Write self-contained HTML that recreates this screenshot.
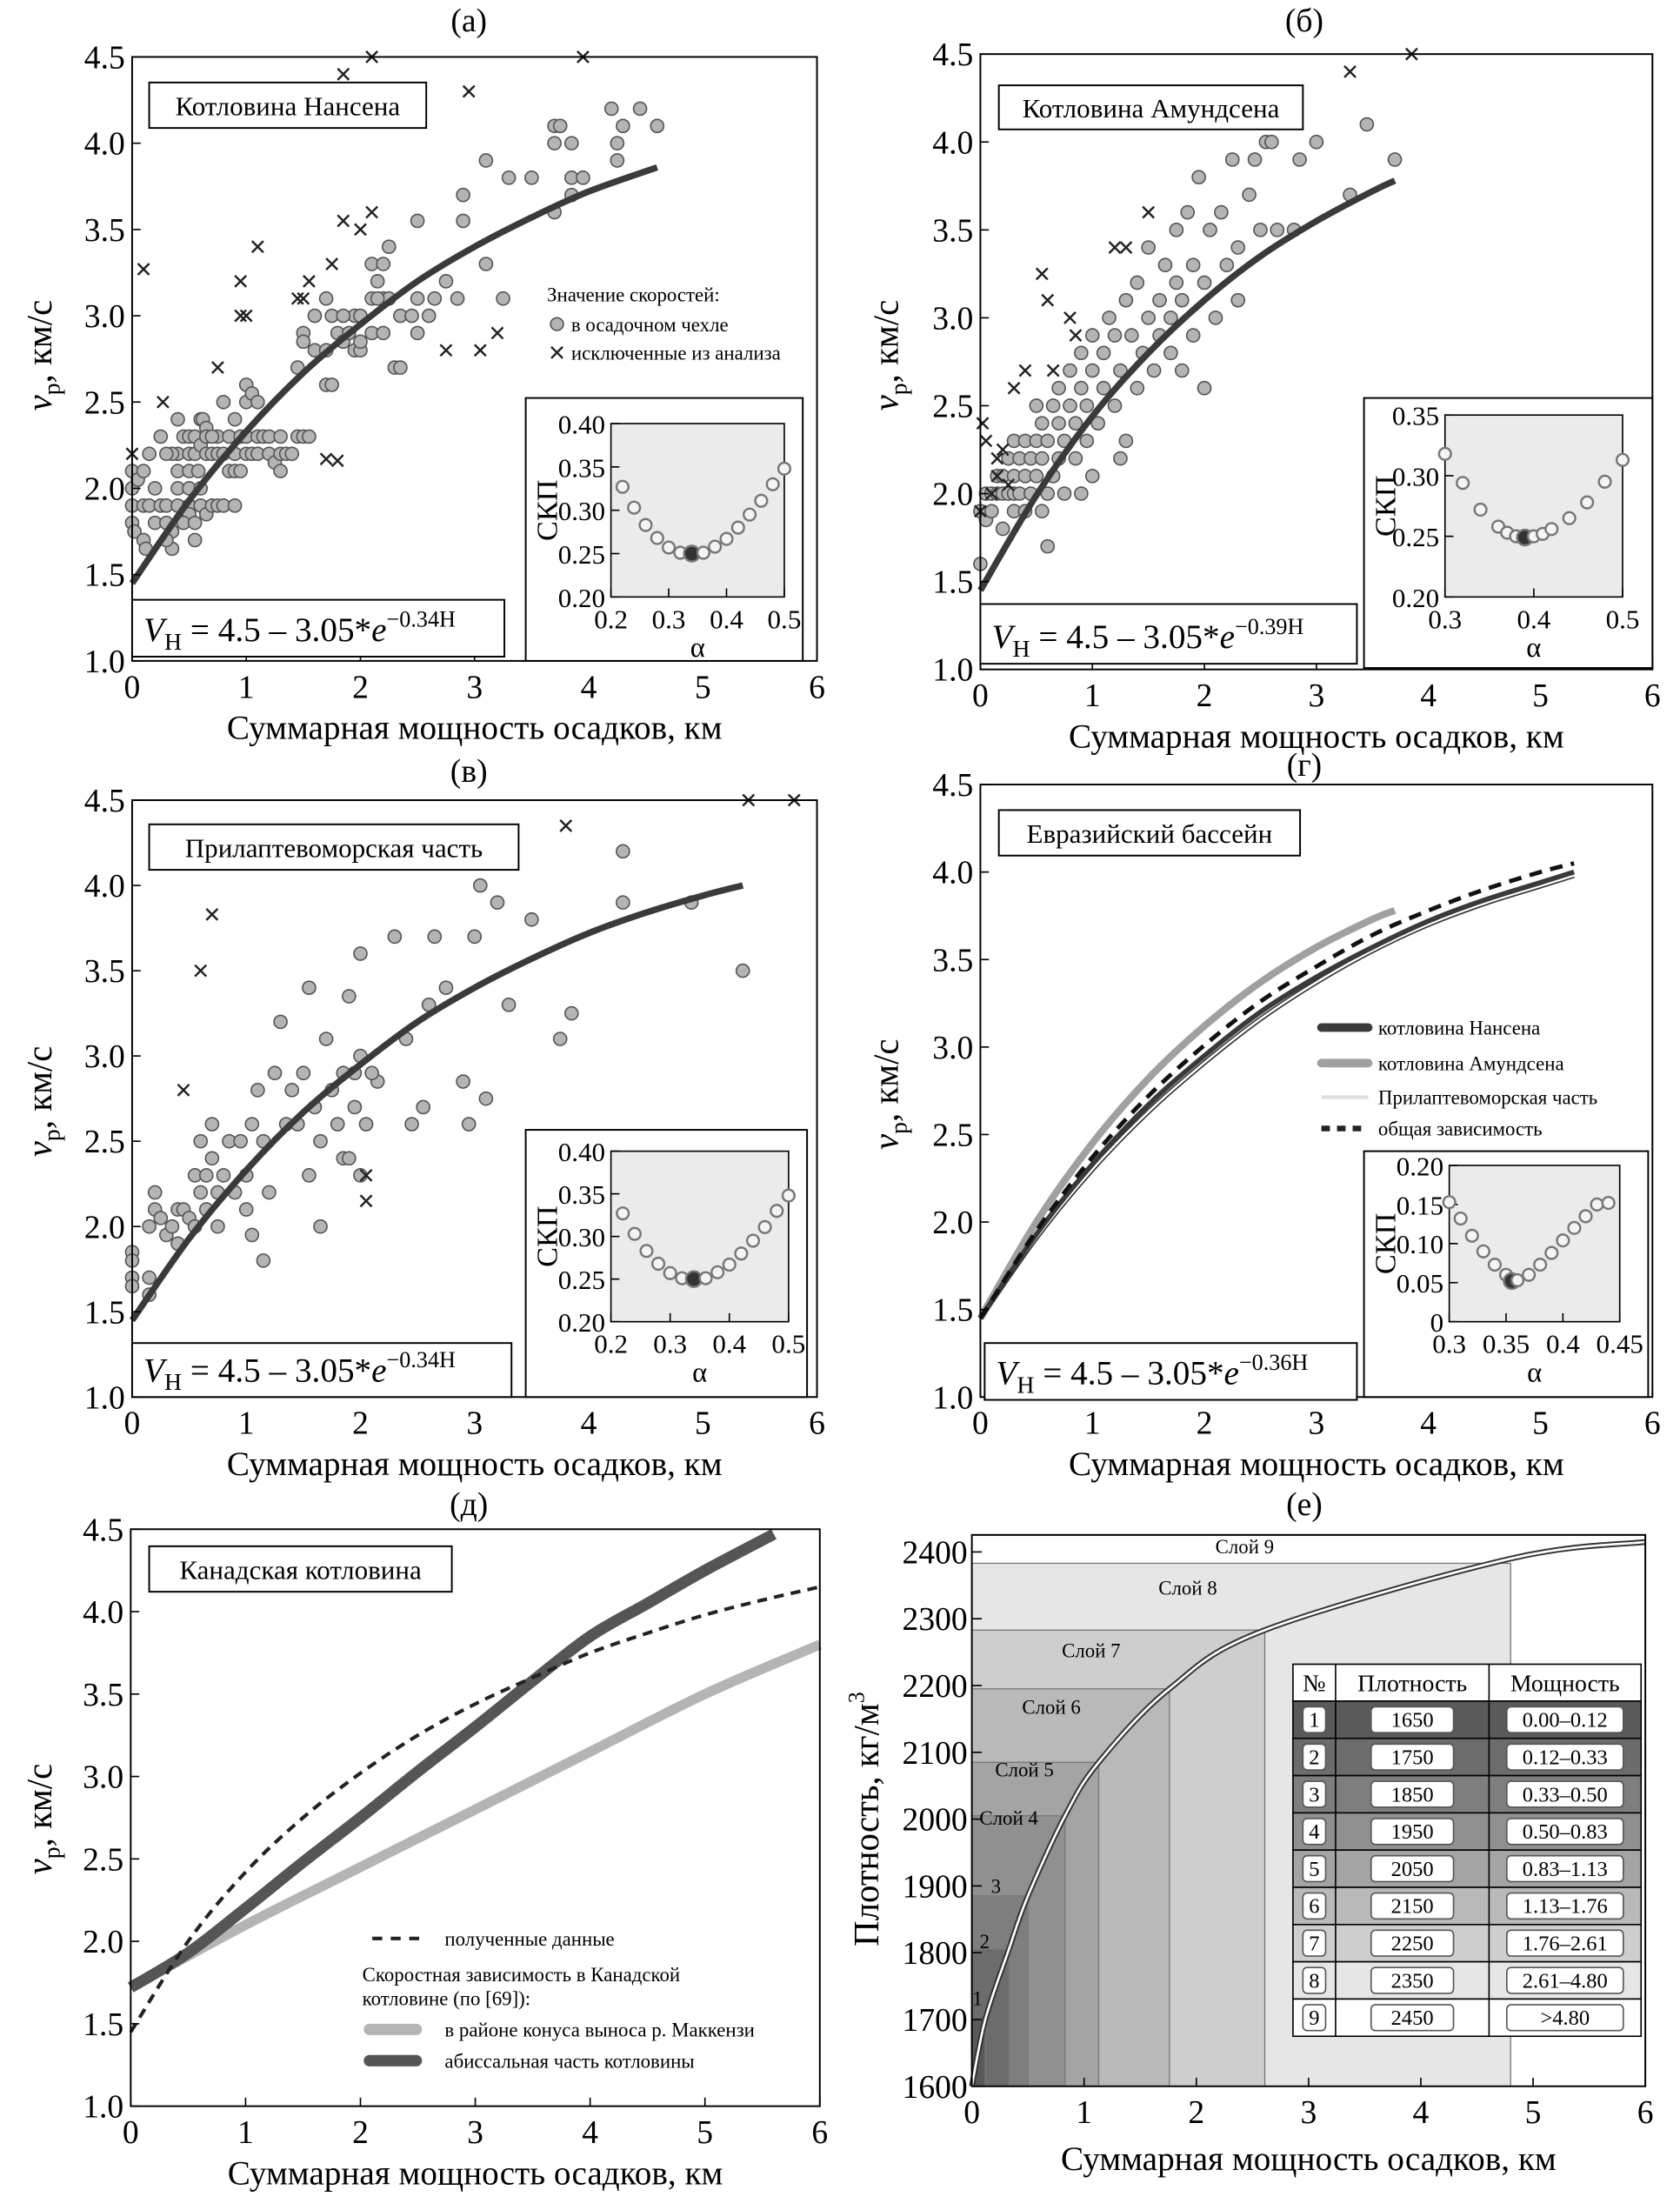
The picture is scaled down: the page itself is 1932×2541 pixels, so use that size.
<!DOCTYPE html>
<html><head><meta charset="utf-8"><style>
html,body{margin:0;padding:0;background:#fff}
svg{display:block;font-family:"Liberation Serif",serif}
</style></head><body>
<svg id="fig" xmlns="http://www.w3.org/2000/svg" width="1932" height="2541" viewBox="0 0 1182.4 1555"></svg>
<script>
// ---------- DATA ----------
const xTicks=[0,1,2,3,4,5,6];
const vTicks=[1.0,1.5,2.0,2.5,3.0,3.5,4.0,4.5];
const fitH_a=[0,0.5,1,1.5,2,2.5,3,3.5,4,4.6];
const fitV_a=[1.45,1.93,2.33,2.67,2.95,3.2,3.4,3.57,3.72,3.86];
const fitH_b=[0,0.5,1,1.5,2,2.5,3,3.5,3.7];
const fitV_b=[1.45,1.99,2.44,2.8,3.1,3.35,3.55,3.72,3.78];
const fitH_c=[0,0.5,1,1.5,2,2.5,3,3.5,4,4.5,5,5.35];
const fitV_c=[1.45,1.93,2.33,2.67,2.95,3.2,3.4,3.57,3.72,3.84,3.94,4.0];
const ptsA=[[0,2.1],[0,2.0],[0,1.9],[0,1.8],[0.02,1.75],[0.05,2.05],[0.1,2.1],[0.15,2.2],[0.1,1.9],[0.15,1.9],[0.2,2.0],[0.2,1.8],[0.1,1.7],[0.12,1.65],[0.25,1.9],[0.3,1.9],[0.3,1.8],[0.35,1.75],[0.35,1.65],[0.4,1.9],[0.4,2.0],[0.4,2.1],[0.4,2.2],[0.35,2.2],[0.45,2.3],[0.4,2.4],[0.5,2.3],[0.5,2.2],[0.5,2.1],[0.5,2.0],[0.5,1.9],[0.5,1.85],[0.45,1.8],[0.55,1.8],[0.55,2.3],[0.55,2.2],[0.58,2.1],[0.6,2.4],[0.6,2.25],[0.6,2.0],[0.6,1.9],[0.62,2.4],[0.65,2.35],[0.65,2.3],[0.65,2.2],[0.65,1.85],[0.7,1.9],[0.7,2.2],[0.75,2.3],[0.75,2.2],[0.75,1.9],[0.8,2.5],[0.8,2.2],[0.8,1.9],[0.85,2.1],[0.85,2.3],[0.9,2.2],[0.9,2.4],[0.9,2.1],[0.9,1.9],[0.95,2.3],[0.95,2.1],[1.0,2.6],[1.0,2.5],[1.0,2.3],[1.0,2.2],[1.05,2.55],[1.05,2.2],[1.1,2.3],[1.1,2.5],[1.1,2.2],[1.15,2.3],[1.2,2.3],[1.2,2.2],[1.25,2.15],[1.3,2.3],[1.3,2.2],[1.3,2.1],[1.35,2.2],[1.4,2.2],[1.45,2.3],[1.5,2.3],[1.55,2.3],[0.3,2.2],[0.25,2.3],[0.7,2.3],[0.3,1.7],[0.55,1.7],[1.45,2.7],[1.5,2.9],[1.5,2.85],[1.6,3.0],[1.6,2.8],[1.7,3.1],[1.75,3.0],[1.7,2.8],[1.7,2.6],[1.75,2.6],[1.8,2.9],[1.85,2.85],[1.9,2.9],[1.95,3.0],[1.95,2.8],[2.0,2.8],[2.0,3.0],[2.1,2.9],[2.1,3.1],[2.1,3.3],[2.15,3.2],[2.2,3.3],[2.2,3.1],[2.2,2.9],[2.25,3.4],[2.25,3.1],[2.3,2.7],[2.35,3.0],[2.35,2.7],[2.45,3.0],[2.5,3.55],[2.5,3.1],[2.5,2.9],[2.6,3.0],[2.65,3.1],[2.75,3.2],[2.85,3.1],[2.9,3.55],[2.9,3.7],[3.1,3.9],[3.1,3.3],[3.25,3.1],[3.3,3.8],[3.5,3.8],[3.7,4.1],[3.75,4.1],[3.7,4.0],[3.7,3.6],[3.85,4.0],[3.85,3.8],[3.95,3.8],[3.85,3.7],[4.2,4.2],[4.25,4.0],[4.25,3.9],[4.3,4.1],[4.45,4.2],[4.6,4.1],[2.0,2.85],[1.85,3.0],[2.15,3.1]];
const crossA=[[0,2.2],[0.1,3.27],[0.27,2.5],[0.75,2.7],[0.95,3.2],[0.95,3.0],[1.0,3.0],[1.1,3.4],[1.45,3.1],[1.5,3.1],[1.55,3.2],[1.7,2.17],[1.8,2.16],[1.75,3.3],[1.85,3.55],[1.85,4.4],[2.0,3.5],[2.1,3.6],[2.1,4.5],[2.75,2.8],[2.95,4.3],[3.05,2.8],[3.2,2.9],[3.95,4.5]];
const ptsB=[[0,1.9],[0,1.6],[0.05,1.85],[0.05,2.0],[0.1,1.9],[0.1,2.0],[0.15,2.0],[0.15,2.1],[0.2,1.8],[0.2,2.0],[0.2,2.1],[0.25,2.0],[0.25,2.2],[0.3,1.9],[0.3,2.0],[0.3,2.1],[0.3,2.3],[0.35,2.0],[0.35,2.2],[0.4,1.9],[0.4,2.1],[0.4,2.3],[0.45,2.0],[0.45,2.2],[0.5,2.1],[0.5,2.3],[0.5,2.5],[0.55,1.9],[0.55,2.2],[0.55,2.4],[0.6,2.0],[0.6,2.3],[0.6,1.7],[0.65,2.1],[0.65,2.5],[0.7,2.2],[0.7,2.4],[0.7,2.6],[0.75,2.0],[0.75,2.3],[0.8,2.5],[0.8,2.7],[0.85,2.2],[0.85,2.4],[0.9,2.6],[0.9,2.8],[0.95,2.3],[0.95,2.5],[1.0,2.7],[1.0,2.9],[1.0,2.1],[1.05,2.4],[1.1,2.6],[1.1,2.8],[1.15,3.0],[1.2,2.5],[1.2,2.9],[1.25,2.7],[1.3,3.1],[1.3,2.3],[1.35,2.9],[1.4,2.6],[1.4,3.2],[1.45,2.8],[1.5,3.0],[1.5,3.4],[1.55,2.7],[1.6,3.1],[1.6,2.9],[1.65,3.3],[1.7,2.8],[1.7,3.0],[1.75,3.2],[1.75,3.5],[1.8,2.7],[1.8,3.1],[1.85,3.6],[1.9,2.9],[1.9,3.3],[1.95,3.8],[2.0,3.2],[2.0,2.6],[2.05,3.5],[2.1,3.0],[2.15,3.6],[2.2,3.3],[2.25,3.9],[2.3,3.1],[2.3,3.4],[2.4,3.7],[2.45,3.9],[2.5,3.5],[2.55,4.0],[2.6,4.0],[2.65,3.5],[2.8,3.5],[2.85,3.9],[3.0,4.0],[3.3,3.7],[3.45,4.1],[3.7,3.9],[1.25,2.2],[0.9,2.0]];
const crossB=[[0,1.9],[0.02,2.4],[0.05,2.3],[0.1,2.0],[0.15,2.2],[0.2,2.25],[0.25,2.05],[0.3,2.6],[0.4,2.7],[0.55,3.25],[0.6,3.1],[0.65,2.7],[0.8,3.0],[0.85,2.9],[1.2,3.4],[1.3,3.4],[1.5,3.6],[3.3,4.4],[3.85,4.5],[0.15,2.1]];
const ptsC=[[0,1.85],[0,1.8],[0,1.7],[0,1.65],[0.15,1.6],[0.15,1.7],[0.15,2.0],[0.2,2.1],[0.2,2.2],[0.25,2.05],[0.3,1.95],[0.35,2.0],[0.4,1.9],[0.4,2.1],[0.45,2.1],[0.5,2.05],[0.55,2.0],[0.55,2.3],[0.6,2.2],[0.6,2.5],[0.65,2.1],[0.65,2.3],[0.7,2.6],[0.7,2.4],[0.75,2.2],[0.75,2.0],[0.8,2.3],[0.85,2.5],[0.9,2.2],[0.95,2.5],[1.0,2.3],[1.0,2.1],[1.05,2.6],[1.05,1.95],[1.1,2.8],[1.15,2.5],[1.2,2.2],[1.25,2.9],[1.3,3.2],[1.35,2.6],[1.4,2.8],[1.45,2.6],[1.5,2.9],[1.55,3.4],[1.55,2.3],[1.6,2.7],[1.65,2.5],[1.7,3.1],[1.75,2.8],[1.8,2.6],[1.85,2.9],[1.85,2.4],[1.9,2.4],[1.95,2.7],[1.9,3.35],[2.0,3.0],[2.0,2.3],[2.05,2.6],[2.0,3.6],[2.3,3.7],[2.4,3.1],[2.45,2.6],[2.55,2.7],[2.6,3.3],[2.65,3.7],[2.75,3.4],[2.9,2.85],[2.95,2.6],[3.0,3.7],[3.05,4.0],[3.1,2.75],[3.2,3.9],[3.3,3.3],[3.5,3.8],[3.75,3.1],[3.85,3.25],[4.3,3.9],[4.3,4.2],[4.9,3.9],[5.35,3.5],[1.15,1.8],[1.65,2.0],[2.15,2.85],[2.1,2.9],[1.95,2.9]];
const crossC=[[0.45,2.8],[0.6,3.5],[0.7,3.83],[2.05,2.3],[2.05,2.15],[3.8,4.35],[5.4,4.5],[5.8,4.5]];
// insets
const alphaA=[0.22,0.24,0.26,0.28,0.30,0.32,0.34,0.36,0.38,0.40,0.42,0.44,0.46,0.48,0.50];
const skpA=[0.327,0.303,0.283,0.268,0.257,0.251,0.250,0.251,0.258,0.267,0.280,0.295,0.311,0.330,0.348];
const alphaB=[0.30,0.32,0.34,0.36,0.37,0.38,0.39,0.40,0.41,0.42,0.44,0.46,0.48,0.50];
const skpB=[0.318,0.294,0.272,0.258,0.253,0.250,0.249,0.250,0.252,0.256,0.265,0.278,0.295,0.313];
const alphaD=[0.30,0.31,0.32,0.33,0.34,0.35,0.355,0.36,0.37,0.38,0.39,0.40,0.41,0.42,0.43,0.44];
const skpD=[0.153,0.132,0.11,0.09,0.073,0.06,0.052,0.053,0.06,0.073,0.088,0.104,0.12,0.135,0.15,0.152];
// panel г curves
const gH=[0,0.5,1,1.5,2,2.5,3,3.5,4,4.5,5,5.3];
const gNansen=[1.45,1.93,2.33,2.67,2.95,3.2,3.4,3.57,3.72,3.84,3.94,4.0];
const gLaptev=[1.45,1.91,2.3,2.63,2.91,3.16,3.37,3.55,3.7,3.82,3.92,3.98];
const gTotal=[1.45,1.95,2.37,2.72,3.01,3.26,3.46,3.64,3.78,3.9,4.0,4.05];
const gAmH=[0,0.5,1,1.5,2,2.5,3,3.5,3.7];
const gAmund=[1.45,2.0,2.45,2.82,3.12,3.37,3.57,3.73,3.78];
// panel д
const dH=[0,0.5,1,1.5,2,2.5,3,3.5,4,4.5,5,5.5,6];
const dObtained=[1.45,2.0,2.42,2.75,3.02,3.25,3.44,3.6,3.75,3.87,3.98,4.07,4.15];
const dMackH=[0,1,2,3,4,5,6];
const dMack=[1.72,2.1,2.45,2.8,3.15,3.5,3.8];
const dAbysH=[0,0.5,1,1.5,2,2.5,3,3.5,4,4.5,5,5.6];
const dAbys=[1.72,1.93,2.2,2.48,2.75,3.03,3.3,3.58,3.85,4.05,4.25,4.47];
// panel е
const rhoTicks=[1600,1700,1800,1900,2000,2100,2200,2300,2400];
const layerBound=[0.12,0.33,0.50,0.83,1.13,1.76,2.61,4.80,6.0];
const layerTop=[1700,1805,1885,2005,2085,2195,2283,2383,2425];
const layerDensity=["1650","1750","1850","1950","2050","2150","2250","2350","2450"];
const layerThick=["0.00–0.12","0.12–0.33","0.33–0.50","0.50–0.83","0.83–1.13","1.13–1.76","1.76–2.61","2.61–4.80",">4.80"];
const curveH=[0,0.12,0.33,0.5,0.83,1.13,1.76,2.61,4.8,6.0];
const curveRho=[1600,1700,1805,1885,2005,2085,2195,2283,2390,2415];

// ---------- DRAW ----------
const NS="http://www.w3.org/2000/svg", svg=document.getElementById('fig');
function el(tag,attrs,parent,text){const e=document.createElementNS(NS,tag);for(const k in attrs)e.setAttribute(k,attrs[k]);if(text!==undefined)e.textContent=text;(parent||svg).appendChild(e);return e;}
function lin(d0,d1,p0,p1){return v=>p0+(v-d0)*(p1-p0)/(d1-d0);}
function smoothPath(xs,ys,X,Y){const P=xs.map((h,i)=>[X(h),Y(ys[i])]);let d='M'+P[0][0]+','+P[0][1];for(let i=0;i<P.length-1;i++){const p0=P[i-1]||P[i],p1=P[i],p2=P[i+1],p3=P[i+2]||p2;const c1=[p1[0]+(p2[0]-p0[0])/6,p1[1]+(p2[1]-p0[1])/6],c2=[p2[0]-(p3[0]-p1[0])/6,p2[1]-(p3[1]-p1[1])/6];d+='C'+c1+' '+c2+' '+p2;}return d;}

function axesFrame(g,X,Y,xt,yt,x0,x1,y0,y1,fmtY,xTitle,yTitleFn){
  el('rect',{x:x0,y:y0,width:x1-x0,height:y1-y0,fill:'none',stroke:'#000','stroke-width':1.2},g);
  xt.forEach(t=>{const x=X(t);el('line',{x1:x,x2:x,y1:y1,y2:y1-6,stroke:'#000','stroke-width':1},g);
    const tl=el('text',{x:x,y:y1+26,'font-size':23,'text-anchor':'middle'},g,String(t));
    
    });
  yt.forEach(t=>{const y=Y(t);el('line',{x1:x0,x2:x0+6,y1:y,y2:y,stroke:'#000','stroke-width':1},g);
    const tl=el('text',{x:x0-5,y:y+8,'font-size':23,'text-anchor':'end'},g,fmtY(t));
    
    });
  const xl=el('text',{x:(x0+x1)/2,y:y1+55,'font-size':24,'text-anchor':'middle'},g,xTitle);
  
  
  yTitleFn(g);
}
function vTitle(g,x,y){const t=el('text',{transform:`translate(${x},${y}) rotate(-90)`,'font-size':25,'text-anchor':'middle'},g);
  
  
  el('tspan',{'font-style':'italic'},t,'v');el('tspan',{'font-size':17,dy:6},t,'p');el('tspan',{dy:-6},t,', км/с');}
function labelBox(g,x,y,w,h,txt){const r=el('rect',{x,y,width:w,height:h,fill:'#fff',stroke:'#000','stroke-width':1.2},g);
  
  
  el('text',{x:x+w/2,y:y+h/2+7,'font-size':19,'text-anchor':'middle'},g,txt);}
function formulaBox(g,x,y,w,h,a){const r=el('rect',{x,y,width:w,height:h,fill:'#fff',stroke:'#000','stroke-width':1.2},g);
  
  
  const t=el('text',{x:x+8,y:y+h-11,'font-size':24},g);
  el('tspan',{'font-style':'italic'},t,'V');el('tspan',{'font-size':17,dy:6},t,'H');el('tspan',{dy:-6},t,' = 4.5 – 3.05*');
  el('tspan',{'font-style':'italic'},t,'e');el('tspan',{'font-size':16,dy:-10},t,'−'+a+'H');}
function inset(g,bx,by,bw,bh,ix0,ix1,iy0,iy1,ad0,ad1,sd0,sd1,xt,xtl,yt,ytl,al,sk,minIdx){
  const b=el('rect',{x:bx,y:by,width:bw,height:bh,fill:'#fff',stroke:'#000','stroke-width':1.2},g);
  
  
  el('rect',{x:ix0,y:iy0,width:ix1-ix0,height:iy1-iy0,fill:'#ebebeb',stroke:'#000','stroke-width':1},g);
  const X=lin(ad0,ad1,ix0,ix1),Y=lin(sd0,sd1,iy1,iy0);
  xt.forEach((t,i)=>{el('line',{x1:X(t),x2:X(t),y1:iy1,y2:iy1-6,stroke:'#000'},g);el('text',{x:X(t),y:iy1+22,'font-size':19,'text-anchor':'middle'},g,xtl[i]);});
  yt.forEach((t,i)=>{el('line',{x1:ix0,x2:ix0+6,y1:Y(t),y2:Y(t),stroke:'#000'},g);el('text',{x:ix0-4,y:Y(t)+7,'font-size':19,'text-anchor':'end'},g,ytl[i]);});
  el('text',{x:(ix0+ix1)/2,y:iy1+42,'font-size':20,'text-anchor':'middle'},g,'α');
  el('text',{transform:`translate(${bx+22},${(iy0+iy1)/2}) rotate(-90)`,'font-size':21,'text-anchor':'middle'},g,'СКП');
  al.forEach((a,i)=>{const c=el('circle',{cx:X(a),cy:Y(sk[i]),r:i===minIdx?5.5:4.2,fill:i===minIdx?'#333':'#f4f4f4',stroke:'#777','stroke-width':1.5},g);
    
    });
}
function scatter(g,pts,crosses,X,Y){
  pts.forEach(p=>{const c=el('circle',{cx:X(p[0]),cy:Y(p[1]),r:4.6,fill:'#b4b4b4',stroke:'#555','stroke-width':1},g);
    
    });
  crosses.forEach(p=>{const x=X(p[0]),y=Y(p[1]);const c=el('path',{d:`M${x-4},${y-4}L${x+4},${y+4}M${x-4},${y+4}L${x+4},${y-4}`,stroke:'#222','stroke-width':1.5},g);
    
    });
}
function title(x,y,t){const e=el('text',{x,y,'font-size':23,'text-anchor':'middle'},svg,t);
  
  }
const XT='Суммарная мощность осадков, км', f1=v=>v.toFixed(1);

// ---- Panel а ----
(function(){const g=el('g',{});
 const X=lin(0,6,93,575),Y=lin(1,4.5,465,40);
 title(330,22,'(а)');
 scatter(g,ptsA,crossA,X,Y);
 const c=el('path',{d:smoothPath(fitH_a,fitV_a,X,Y),fill:'none',stroke:'#3a3a3a','stroke-width':4.5},g);
 
 axesFrame(g,X,Y,xTicks,vTicks,93,575,40,465,f1,XT,gg=>vTitle(gg,36,250));
 labelBox(g,105,58,195,32,'Котловина Нансена');
 const lg=el('g',{},g);
 el('text',{x:385,y:212,'font-size':14},lg,'Значение скоростей:');
 el('circle',{cx:392,cy:228,r:4.5,fill:'#b4b4b4',stroke:'#555'},lg);el('text',{x:402,y:233,'font-size':14},lg,'в осадочном чехле');
 el('path',{d:'M388,244L396,252M388,252L396,244',stroke:'#222','stroke-width':1.5},lg);el('text',{x:402,y:253,'font-size':14},lg,'исключенные из анализа');
 formulaBox(g,93,422,262,40,'0.34');
 inset(g,370,280,195,185,430,552,298,420,0.2,0.5,0.2,0.4,[0.2,0.3,0.4,0.5],['0.2','0.3','0.4','0.5'],[0.2,0.25,0.3,0.35,0.4],['0.20','0.25','0.30','0.35','0.40'],alphaA,skpA,6);
})();
// ---- Panel б ----
(function(){const g=el('g',{});
 const X=lin(0,6,690,1163),Y=lin(1,4.5,471,38);
 title(918,22,'(б)');
 scatter(g,ptsB,crossB,X,Y);
 const c=el('path',{d:smoothPath(fitH_b,fitV_b,X,Y),fill:'none',stroke:'#3a3a3a','stroke-width':4.5},g);
 
 axesFrame(g,X,Y,xTicks,vTicks,690,1163,38,471,f1,XT,gg=>vTitle(gg,632,250));
 labelBox(g,703,60,214,31,'Котловина Амундсена');
 formulaBox(g,690,425,265,42,'0.39');
 inset(g,960,280,203,190,1017,1142,292,420,0.3,0.5,0.2,0.35,[0.3,0.4,0.5],['0.3','0.4','0.5'],[0.2,0.25,0.3,0.35],['0.20','0.25','0.30','0.35'],alphaB,skpB,6);
})();
// ---- Panel в ----
(function(){const g=el('g',{});
 const X=lin(0,6,93,575),Y=lin(1,4.5,983,563);
 title(330,550,'(в)');
 scatter(g,ptsC,crossC,X,Y);
 const c=el('path',{d:smoothPath(fitH_c,fitV_c,X,Y),fill:'none',stroke:'#3a3a3a','stroke-width':4.5},g);
 
 axesFrame(g,X,Y,xTicks,vTicks,93,575,563,983,f1,XT,gg=>vTitle(gg,36,775));
 labelBox(g,105,580,260,32,'Прилаптевоморская часть');
 formulaBox(g,93,945,267,38,'0.34');
 inset(g,370,795,198,188,430,555,810,930,0.2,0.5,0.2,0.4,[0.2,0.3,0.4,0.5],['0.2','0.3','0.4','0.5'],[0.2,0.25,0.3,0.35,0.4],['0.20','0.25','0.30','0.35','0.40'],alphaA,skpA,6);
})();
// ---- Panel г ----
(function(){const g=el('g',{});
 const X=lin(0,6,690,1163),Y=lin(1,4.5,983,552);
 title(918,546,'(г)');
 let c=el('path',{d:smoothPath(gAmH,gAmund,X,Y),fill:'none',stroke:'#a0a0a0','stroke-width':5},g);
 
 c=el('path',{d:smoothPath(gH,gLaptev,X,Y),fill:'none',stroke:'#333','stroke-width':3.5},g);
 
 el('path',{d:smoothPath(gH,gLaptev,X,Y),fill:'none',stroke:'#fff','stroke-width':1.5},g);
 c=el('path',{d:smoothPath(gH,gNansen,X,Y),fill:'none',stroke:'#3a3a3a','stroke-width':3.5},g);
 
 c=el('path',{d:smoothPath(gH,gTotal,X,Y),fill:'none',stroke:'#111','stroke-width':3,'stroke-dasharray':'9,6'},g);
 
 axesFrame(g,X,Y,xTicks,vTicks,690,1163,552,983,f1,XT,gg=>vTitle(gg,632,770));
 labelBox(g,703,570,212,32,'Евразийский бассейн');
 const lg=el('g',{},g);
 el('line',{x1:930,x2:963,y1:723,y2:723,stroke:'#3a3a3a','stroke-width':6,'stroke-linecap':'round'},lg);el('text',{x:970,y:728,'font-size':14},lg,'котловина Нансена');
 el('line',{x1:930,x2:963,y1:748,y2:748,stroke:'#a0a0a0','stroke-width':6,'stroke-linecap':'round'},lg);el('text',{x:970,y:753,'font-size':14},lg,'котловина Амундсена');
 el('line',{x1:930,x2:963,y1:772,y2:772,stroke:'#ddd','stroke-width':2.5},lg);el('text',{x:970,y:777,'font-size':14},lg,'Прилаптевоморская часть');
 el('line',{x1:930,x2:963,y1:794,y2:794,stroke:'#222','stroke-width':4,'stroke-dasharray':'6,5'},lg);el('text',{x:970,y:799,'font-size':14},lg,'общая зависимость');
 formulaBox(g,693,945,262,40,'0.36');
 inset(g,960,810,200,173,1020,1140,820,930,0.3,0.45,0,0.2,[0.3,0.35,0.4,0.45],['0.3','0.35','0.4','0.45'],[0,0.05,0.1,0.15,0.2],['0','0.05','0.10','0.15','0.20'],alphaD,skpD,6);
})();
// ---- Panel д ----
(function(){const g=el('g',{});
 const X=lin(0,6,92,577),Y=lin(1,4.5,1482,1076);
 title(330,1066,'(д)');
 let c=el('path',{d:smoothPath(dMackH,dMack,X,Y),fill:'none',stroke:'#b4b4b4','stroke-width':7},g);
 
 c=el('path',{d:smoothPath(dAbysH,dAbys,X,Y),fill:'none',stroke:'#555','stroke-width':8},g);
 
 c=el('path',{d:smoothPath(dH,dObtained,X,Y),fill:'none',stroke:'#222','stroke-width':2.5,'stroke-dasharray':'7,5'},g);
 
 axesFrame(g,X,Y,xTicks,vTicks,92,577,1076,1482,f1,XT,gg=>vTitle(gg,36,1280));
 labelBox(g,105,1088,213,32,'Канадская котловина');
 const lg=el('g',{},g);
 el('line',{x1:262,x2:295,y1:1364,y2:1364,stroke:'#222','stroke-width':2.5,'stroke-dasharray':'7,6'},lg);el('text',{x:313,y:1369,'font-size':14},lg,'полученные данные');
 el('text',{x:255,y:1394,'font-size':14},lg,'Скоростная зависимость в Канадской');
 el('text',{x:255,y:1411,'font-size':14},lg,'котловине (по [69]):');
 el('line',{x1:260,x2:293,y1:1428,y2:1428,stroke:'#b4b4b4','stroke-width':8,'stroke-linecap':'round'},lg);el('text',{x:313,y:1433,'font-size':14},lg,'в районе конуса выноса р. Маккензи');
 el('line',{x1:260,x2:293,y1:1450,y2:1450,stroke:'#555','stroke-width':8,'stroke-linecap':'round'},lg);el('text',{x:313,y:1455,'font-size':14},lg,'абиссальная часть котловины');
})();
// ---- Panel е ----
(function(){const g=el('g',{});
 const FX0=684,FX1=1158,FY0=1080,FY1=1468;
 const X=lin(0,6,FX0,FX1),Y=lin(1600,2400,FY1,1092);
 title(918,1066,'(е)');
 const grays=['#5a5a5a','#6c6c6c','#7e7e7e','#909090','#a4a4a4','#b9b9b9','#cecece','#e6e6e6','#ffffff'];
 el('rect',{x:FX0,y:FY0,width:FX1-FX0,height:FY1-FY0,fill:'#fff'},g);
 for(let i=layerBound.length-1;i>=0;i--){
  const top=Math.max(Y(layerTop[i]),FY0);
  const r=el('rect',{x:FX0,y:top,width:X(layerBound[i])-FX0,height:FY1-top,fill:grays[i],stroke:'#777','stroke-width':0.8},g);
  
  
 }
 const lab=[['Слой 9',876,1093],['Слой 8',836,1122],['Слой 7',768,1166],['Слой 6',740,1206],['Слой 5',721,1250],['Слой 4',710,1284],['3',701,1332],['2',693,1371],['1',688,1411]];
 lab.forEach(l=>el('text',{x:l[1],y:l[2],'font-size':14,'text-anchor':'middle'},g,l[0]));
 let c=el('path',{d:smoothPath(curveH,curveRho,X,Y),fill:'none',stroke:'#333','stroke-width':4},g);
 
 el('path',{d:smoothPath(curveH,curveRho,X,Y),fill:'none',stroke:'#fff','stroke-width':1.6},g);
 el('rect',{x:FX0,y:FY0,width:FX1-FX0,height:FY1-FY0,fill:'none',stroke:'#000','stroke-width':1.2},g);
 xTicks.forEach(t=>{el('line',{x1:X(t),x2:X(t),y1:FY1,y2:FY1-6,stroke:'#000'},g);const tl=el('text',{x:X(t),y:FY1+26,'font-size':23,'text-anchor':'middle'},g,String(t));});
 rhoTicks.forEach(t=>{el('line',{x1:FX0,x2:FX0+7,y1:Y(t),y2:Y(t),stroke:'#000'},g);const tl=el('text',{x:FX0-3,y:Y(t)+8,'font-size':23,'text-anchor':'end'},g,String(t));});
 const xl=el('text',{x:921,y:1527,'font-size':24,'text-anchor':'middle'},g,XT);
 const yl=el('text',{transform:'translate(618,1280) rotate(-90)','font-size':25,'text-anchor':'middle'},g);
 el('tspan',{},yl,'Плотность, кг/м');el('tspan',{'font-size':16,dy:-10},yl,'3');
 const tg=el('g',{},g);
 const tx=[910,940,1048,1155],ty0=1171,hh=26,rh=26.2;
 el('rect',{x:910,y:ty0,width:245,height:hh,fill:'#fff',stroke:'#000'},tg);
 ['№','Плотность','Мощность'].forEach((h,i)=>el('text',{x:(tx[i]+tx[i+1])/2,y:ty0+19,'font-size':17,'text-anchor':'middle'},tg,h));
 layerDensity.forEach((d,i)=>{const y=ty0+hh+i*rh;
  el('rect',{x:910,y,width:245,height:rh,fill:grays[i],stroke:'#000'},tg);
  const cells=[String(i+1),d,layerThick[i]];const bw=[16,58,82];
  cells.forEach((t,j)=>{const cx=(tx[j]+tx[j+1])/2;el('rect',{x:cx-bw[j]/2,y:y+4,width:bw[j],height:rh-8,rx:3,fill:'#fff',stroke:'#555'},tg);
   el('text',{x:cx,y:y+rh-8,'font-size':15,'text-anchor':'middle'},tg,t);});
 });
 [940,1048].forEach(x=>el('line',{x1:x,x2:x,y1:ty0,y2:ty0+hh+9*rh,stroke:'#000'},tg));
})();
</script>
</body></html>
